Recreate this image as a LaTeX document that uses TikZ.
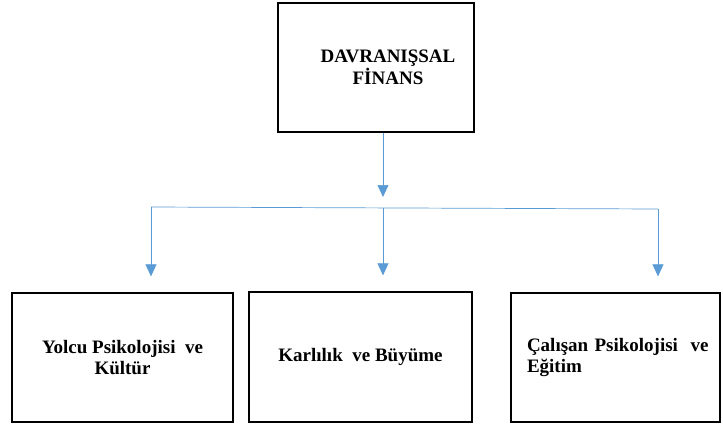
\documentclass[tikz,border=0pt]{standalone}
\usepackage{fontspec}
\setmainfont{Liberation Serif}
\usetikzlibrary{arrows.meta}

\begin{document}
\begin{tikzpicture}[x=1pt,y=-1pt,
    main box/.style={draw=black,line width=1.3pt,inner sep=0pt,font=\fontsize{19}{21.5}\selectfont\bfseries},
    link/.style={draw={rgb,255:red,91;green,155;blue,213},line width=0.7pt},
    arr/.style={link,-{Triangle[length=12pt,width=11pt]}}]
  \useasboundingbox (0,0) rectangle (723,426);
  \node[main box,minimum width=196,minimum height=129] (top) at (376,67.5) {};
  \node[font=\fontsize{19}{21.5}\selectfont\bfseries,align=center] (title) at (388,67.5) {DAVRANIŞSAL\\FİNANS};
  \node[main box,minimum width=221,minimum height=129,align=center] (left) at (122.5,357.5) {Yolcu Psikolojisi\ \ ve\\Kültür};
  \node[main box,minimum width=223,minimum height=130,align=center] (mid) at (360.5,357) {Karlılık\ \ ve Büyüme};
  \node[main box,minimum height=129,text width=177,inner xsep=16pt,align=left] (right) at (615.5,357.5) {\mbox{Çalışan Psikolojisi\ \ ve}\\Eğitim};

  \coordinate (split) at (383,208);
  \coordinate (hl) at (151,207);
  \coordinate (hr) at (658,209);
  \draw[arr] (top.south -| split) -- ([yshift=11pt]split);
  \draw[link] (hl) -- (hr);
  \draw[arr,shorten >=16pt] (hl) -- (hl |- left.north);
  \draw[arr,shorten >=16pt] (split) -- (split |- mid.north);
  \draw[arr,shorten >=16pt] (hr) -- (hr |- right.north);
\end{tikzpicture}
\end{document}
